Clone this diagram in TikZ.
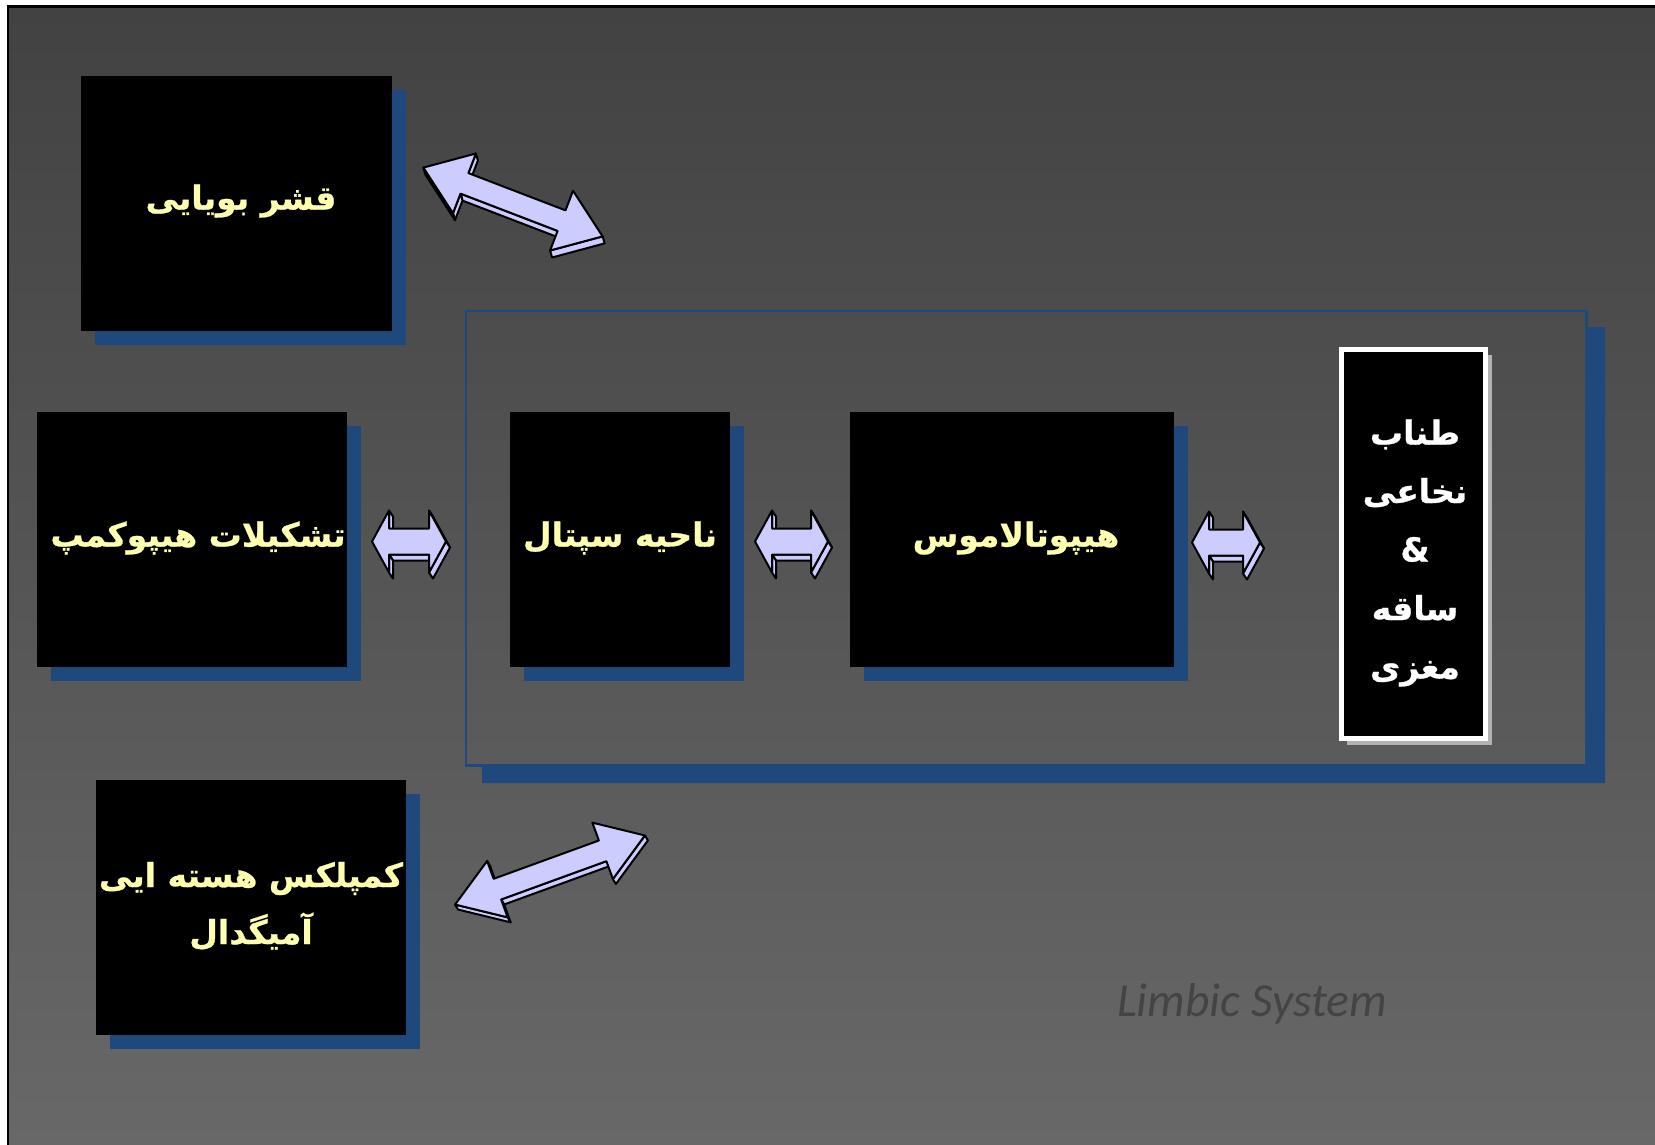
\documentclass[tikz,border=0pt]{standalone}
\usepackage{fontspec}
\usetikzlibrary{calc,shadows}
\TeXXeTstate=1
\newfontfamily\fa[Script=Arabic, BoldFeatures={FakeBold=0.8}]{DejaVu Sans}
\newfontfamily\capfont{Carlito}
\definecolor{slideblue}{HTML}{1F497D}
\definecolor{labelyellow}{HTML}{FFFFB0}
\definecolor{arrowlav}{HTML}{CCCCFF}
\definecolor{bgtop}{HTML}{424242}
\definecolor{bgbottom}{HTML}{686868}
\definecolor{captiongray}{HTML}{444444}

% extrusion offset of the 3D block arrows
\newcommand\adx{4}
\newcommand\ady{-6}
% #1 name, #2/#3 centre, #4 angle, #5 half length, #6 head length,
% #7 head half width, #8 shaft half width, #9 list of visible side faces
\newcommand\blockarrow[9]{%
  \begin{scope}[shift={(#2,#3)},rotate=#4]
    \coordinate (#1-1) at (-#5,0);
    \coordinate (#1-2) at ({-#5+#6},#7);
    \coordinate (#1-3) at ({-#5+#6},#8);
    \coordinate (#1-4) at ({#5-#6},#8);
    \coordinate (#1-5) at ({#5-#6},#7);
    \coordinate (#1-6) at (#5,0);
    \coordinate (#1-7) at ({#5-#6},-#7);
    \coordinate (#1-8) at ({#5-#6},-#8);
    \coordinate (#1-9) at ({-#5+#6},-#8);
    \coordinate (#1-10) at ({-#5+#6},-#7);
  \end{scope}
  \foreach \i in {#9}{%
    \pgfmathtruncatemacro\j{mod(\i,10)+1}%
    \filldraw[arrowside] (#1-\i) -- (#1-\j) -- ($(#1-\j)+(\adx,\ady)$) -- ($(#1-\i)+(\adx,\ady)$) -- cycle;
  }
  \filldraw[arrowside] (#1-1) -- (#1-2) -- (#1-3) -- (#1-4) -- (#1-5) -- (#1-6)
     -- (#1-7) -- (#1-8) -- (#1-9) -- (#1-10) -- cycle;
}

\tikzset{
  blackbox/.style={fill=black, draw=none, inner sep=0pt, outer sep=0pt,
    drop shadow={shadow xshift=14pt, shadow yshift=-14pt, fill=slideblue, opacity=1}},
  boxlabel/.style={text=labelyellow, font=\fa\bfseries\fontsize{33}{57}\selectfont,
    align=center, inner sep=0pt},
  arrowside/.style={fill=arrowlav, draw=black, line width=2pt, line join=round},
}

\begin{document}
\begin{tikzpicture}[x=1pt,y=1pt]
\useasboundingbox (0,0) rectangle (1655,-1145);
% slide background
\fill[white] (0,0) rectangle (1655,-1145);
\shade[top color=bgtop, bottom color=bgbottom] (8,-6.5) rectangle (1655,-1145);
\draw[black, line width=2.8pt] (8,-1145) -- (8,-6.5) -- (1655,-6.5);

% limbic frame with its offset shadow
\node[draw=slideblue, line width=2.7pt, inner sep=0pt, outer sep=0pt,
      minimum width=1120.5pt, minimum height=454.5pt] (limbic) at (1026.25,-538.25) {};
\fill[slideblue] ($(limbic.north east)+(1.35,-16)$) -- ($(limbic.north east)+(18.5,-16)$)
   -- ($(limbic.south east)+(18.5,-17.5)$) -- ($(limbic.south west)+(16,-17.5)$)
   -- ($(limbic.south west)+(16,-1.35)$) -- ($(limbic.south east)+(1.35,-1.35)$) -- cycle;

% boxes
\node[blackbox, minimum width=311pt, minimum height=255pt] (olf) at (236.5,-203.5) {};
\node[blackbox, minimum width=310pt, minimum height=255pt] (hippo) at (192,-539.5) {};
\node[blackbox, minimum width=310pt, minimum height=255pt] (amyg) at (251,-907.5) {};
\node[blackbox, minimum width=220pt, minimum height=255pt] (septal) at (620,-539.5) {};
\node[blackbox, minimum width=324pt, minimum height=255pt] (hypo) at (1012,-539.5) {};
\node[fill=black, draw=white, line width=4.7pt, inner sep=0pt, outer sep=0pt,
      minimum width=144.3pt, minimum height=389.3pt,
      drop shadow={shadow xshift=6pt, shadow yshift=-6pt, fill=black!30, opacity=1}]
      (spinal) at (1413.5,-544) {};

% labels
\node[boxlabel] (olf-t) at (241,-201) {\beginR قشر بویایی\endR};
\node[boxlabel] (hippo-t) at (198,-538) {\beginR تشکیلات هیپوکمپ\endR};
\node[boxlabel] (amyg-t) at (251,-906) {\beginR کمپلکس هسته ایی\endR\\\beginR آمیگدال\endR};
\node[boxlabel] (septal-t) at (620,-538) {\beginR ناحیه سپتال\endR};
\node[boxlabel] (hypo-t) at (1016,-538) {\beginR هیپوتالاموس\endR};
\node[boxlabel, text=white, font=\fa\bfseries\fontsize{33}{58.5}\selectfont] (spinal-t) at (1415,-553)
  {\beginR طناب\endR\\\beginR نخاعی\endR\\\&\\\beginR ساقه\endR\\\beginR مغزی\endR};

% block arrows
\blockarrow{a1}{409}{-541.5}{0}{37}{17}{31}{13}{2,5,6,8,9}
\blockarrow{a2}{791.5}{-541.5}{0}{36.5}{17}{31}{13}{2,5,6,8,9}
\blockarrow{a3}{1226}{-542.5}{0}{34}{17}{31}{13}{2,5,6,8,9}
\renewcommand\adx{2}\renewcommand\ady{-7}
\blockarrow{a4}{513}{-202}{-21}{96}{44}{32}{11}{2,6,8,9,10}
\renewcommand\adx{3}\renewcommand\ady{-5}
\blockarrow{a5}{550}{-870}{20}{101}{45}{30}{11}{2,6,8,9,10}

% caption
\node[text=captiongray, font=\capfont\itshape\fontsize{47.5}{52}\selectfont, inner sep=0pt]
  (caption) at (1252,-1004) {Limbic System};
\end{tikzpicture}
\end{document}
